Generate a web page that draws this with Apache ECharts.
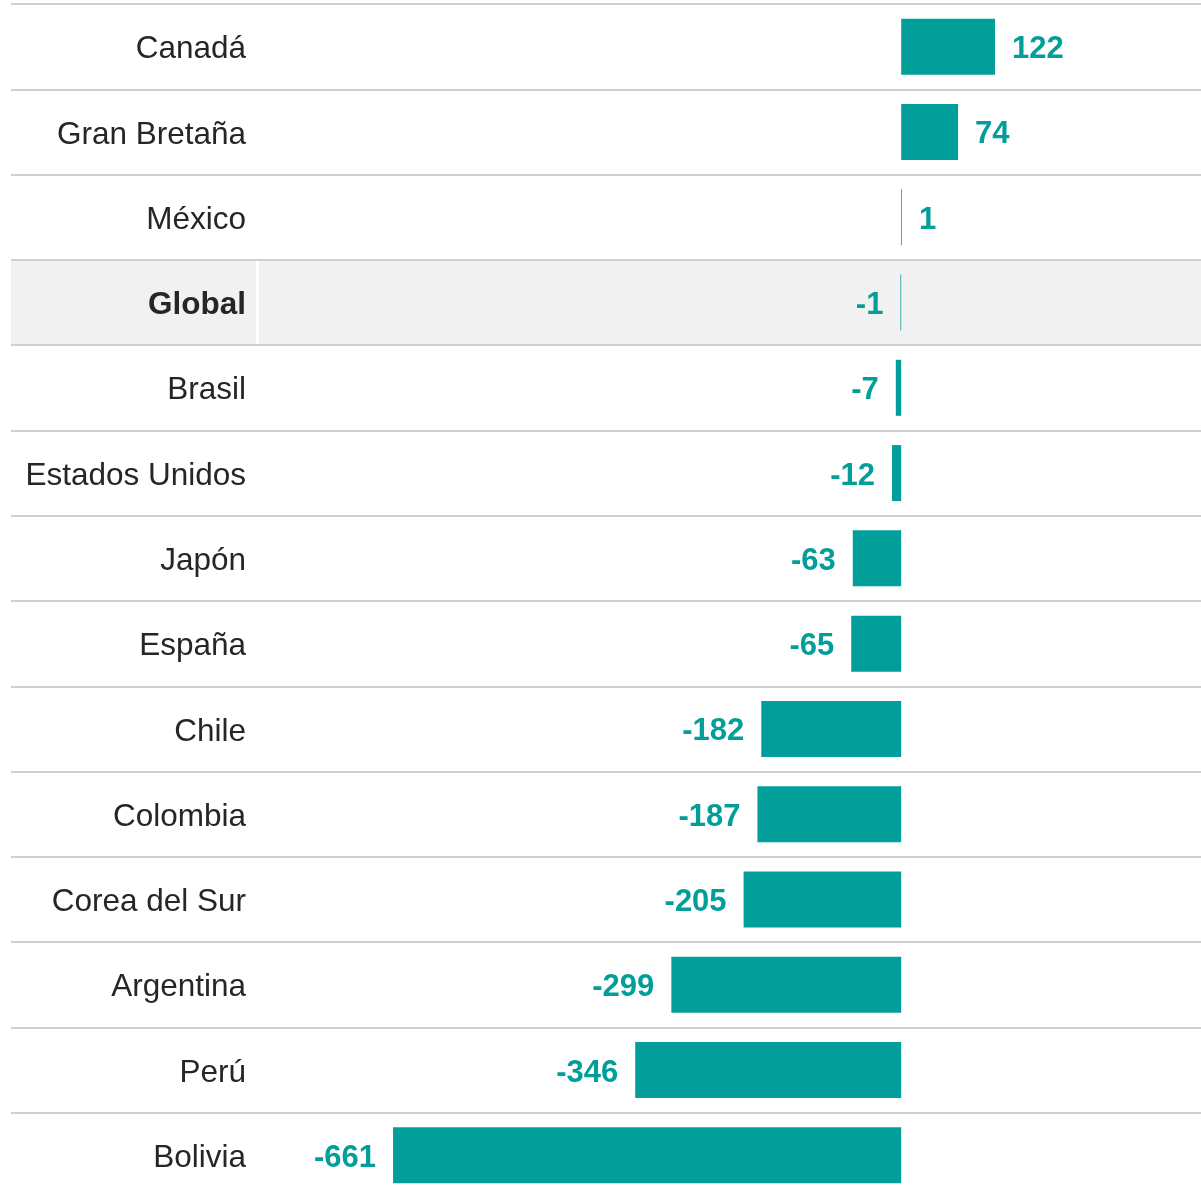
<!DOCTYPE html>
<html>
<head>
<meta charset="utf-8">
<script src="https://cdn.jsdelivr.net/npm/echarts@6/dist/echarts.min.js"></script>
<style>
  html, body { margin: 0; padding: 0; background: #fff; }
  #chart { width: 1201px; height: 1193px; }
</style>
</head>
<body>
<div id="chart"></div>
<script>
const categories = ['Canadá', 'Gran Bretaña', 'México', 'Global', 'Brasil', 'Estados Unidos', 'Japón', 'España', 'Chile', 'Colombia', 'Corea del Sur', 'Argentina', 'Perú', 'Bolivia'];
const values = [122, 74, 1, -1, -7, -12, -63, -65, -182, -187, -205, -299, -346, -661];
const highlight = 'Global';

const teal = '#029f9a';
const font = 'Arial, "Liberation Sans", sans-serif';

const myChart = echarts.init(document.getElementById('chart'));

const option = {
  animation: false,
  grid: { left: 11, top: 4, width: 1190, height: 1194, containLabel: false, outerBoundsMode: 'none' },
  xAxis: {
    type: 'value',
    min: -1158,
    max: 390,
    show: false,
    splitLine: { show: false }
  },
  yAxis: {
    type: 'category',
    data: categories,
    inverse: true,
    axisLine: { show: false },
    axisTick: { show: false },
    splitLine: { show: true, lineStyle: { color: '#d0d0d0', width: 2 } },
    axisLabel: {
      margin: -235,
      align: 'right',
      padding: [6, 0, 0, 0],
      fontFamily: font,
      fontSize: 31.5,
      color: '#262626',
      formatter: (v) => v === highlight ? '{b|' + v + '}' : v,
      rich: {
        b: { fontFamily: font, fontSize: 31.5, fontWeight: 'bold', color: '#262626' }
      }
    }
  },
  series: [
    {
      // grey band behind the highlighted row
      type: 'custom',
      silent: true,
      z: -1,
      data: [[0, highlight]],
      encode: { x: 0, y: 1 },
      renderItem: (params, api) => {
        const cs = params.coordSys;
        const yc = api.coord([0, api.value(1)])[1];
        const h = api.size([0, 1])[1];
        return {
          type: 'group',
          children: [
            {
              type: 'rect',
              shape: { x: cs.x, y: yc - h / 2 + 1, width: cs.width, height: h - 2 },
              style: { fill: '#f1f1f1' }
            },
            {
              type: 'rect',
              shape: { x: cs.x + 245, y: yc - h / 2 + 1, width: 3, height: h - 2 },
              style: { fill: '#ffffff' }
            }
          ]
        };
      }
    },
    {
      type: 'bar',
      z: 2,
      barWidth: 56,
      itemStyle: { color: teal },
      label: {
        show: true,
        distance: 17,
        offset: [0, 3],
        fontFamily: font,
        fontSize: 31,
        fontWeight: 'bold',
        color: teal
      },
      // negative values get their label on the left
      data: values.map((v) => ({
        value: v,
        label: { position: v < 0 ? 'left' : 'right' }
      }))
    }
  ]
};

myChart.setOption(option);
</script>
</body>
</html>
